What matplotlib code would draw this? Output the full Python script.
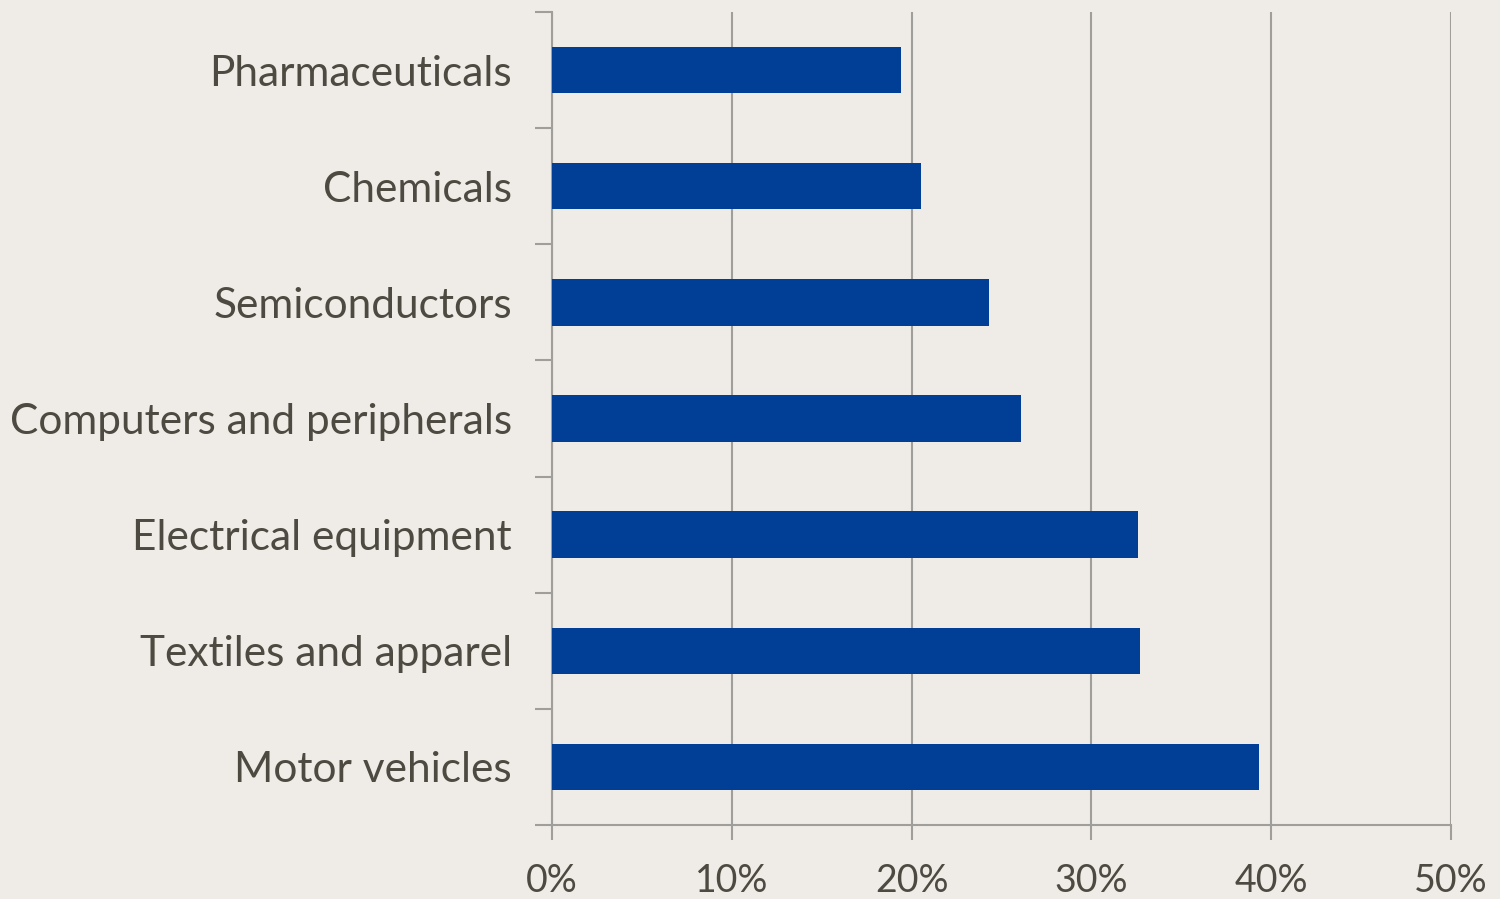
import matplotlib
matplotlib.use("Agg")
import matplotlib.pyplot as plt
from matplotlib import font_manager as fm
from matplotlib.ticker import FixedLocator, FuncFormatter

categories = ["Pharmaceuticals", "Chemicals", "Semiconductors",
              "Computers and peripherals", "Electrical equipment",
              "Textiles and apparel", "Motor vehicles"]
values = [19.4, 20.5, 24.3, 26.1, 32.6, 32.7, 39.3]
xticks = [0, 10, 20, 30, 40, 50]

names = {f.name for f in fm.fontManager.ttflist}
fam = "DejaVu Sans"
for cand in ["Liberation Sans Narrow", "Lato", "Roboto"]:
    if cand in names:
        fam = cand
        break

bg = "#EFECE7"
bar_color = "#003F95"
text_color = "#4D4A42"
grid_color = "#A09E9A"

fig = plt.figure(figsize=(15, 8.99), dpi=100, facecolor=bg)
ax = fig.add_axes([0.368, 0.0823, 0.9673 - 0.368, 0.9867 - 0.0823], facecolor=bg)

n = len(categories)
ypos = list(range(n))
ax.barh(ypos, values, height=0.4, color=bar_color, zorder=3)
ax.set_ylim(n - 0.5, -0.5)
ax.set_xlim(0, 50)

ax.xaxis.set_major_locator(FixedLocator(xticks))
ax.xaxis.set_major_formatter(FuncFormatter(lambda v, p: f"{int(v)}%"))
ax.grid(axis="x", color=grid_color, linewidth=1.5, zorder=0)

ax.yaxis.set_major_locator(FixedLocator([i - 0.5 for i in range(n + 1)]))
ax.yaxis.set_major_formatter(FuncFormatter(lambda v, p: ""))
ax.yaxis.set_minor_locator(FixedLocator(ypos))
ax.set_yticklabels(categories, minor=True)
ax.tick_params(axis="y", which="minor", length=0, pad=29, labelsize=30.5, labelcolor=text_color)
ax.tick_params(axis="y", which="major", length=12, width=1.5, color=grid_color)
ax.tick_params(axis="x", which="major", length=11, width=1.5, color=grid_color,
               pad=16, labelsize=27, labelcolor=text_color)
for lab in ax.get_yticklabels(minor=True) + ax.get_xticklabels():
    lab.set_fontfamily(fam)

for s in ["top", "right"]:
    ax.spines[s].set_visible(False)
for s in ["left", "bottom"]:
    ax.spines[s].set_color(grid_color)
    ax.spines[s].set_linewidth(1.5)

fig.savefig("out.png", dpi=100, facecolor=bg)
